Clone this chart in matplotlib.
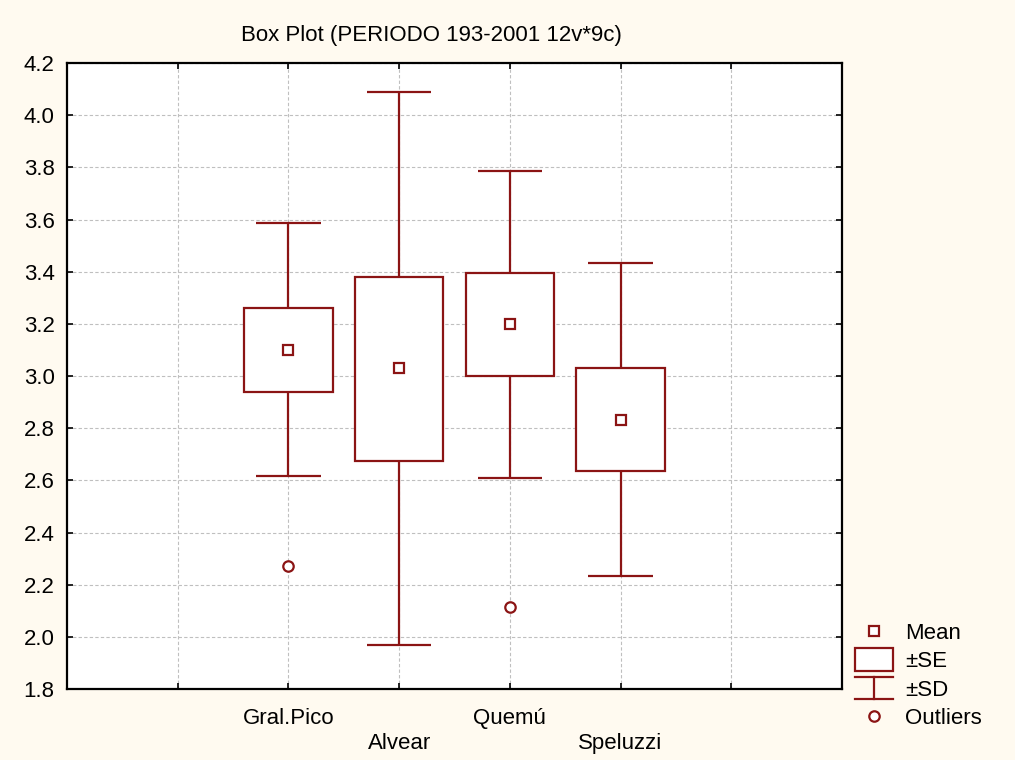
import matplotlib
matplotlib.use("Agg")
import matplotlib.pyplot as plt
import numpy as np
from matplotlib.lines import Line2D
from matplotlib.patches import Rectangle
from matplotlib.legend_handler import HandlerBase

plt.rcParams['font.family'] = ['Liberation Sans', 'DejaVu Sans']

categories = ["Gral.Pico", "Alvear", "Quemú", "Speluzzi"]
means = [3.10, 3.03, 3.20, 2.83]
se_low = [2.94, 2.675, 3.00, 2.635]
se_high = [3.262, 3.38, 3.395, 3.032]
sd_low = [2.617, 1.97, 2.609, 2.234]
sd_high = [3.585, 4.088, 3.786, 3.432]
outlier_cat = [0, 2]
outlier_vals = [2.27, 2.113]
yticks = [1.8, 2.0, 2.2, 2.4, 2.6, 2.8, 3.0, 3.2, 3.4, 3.6, 3.8, 4.0, 4.2]

C = '#8B1414'
BG = '#FFFAF0'

fig = plt.figure(figsize=(10.15, 7.6), dpi=100, facecolor=BG)
ax = fig.add_axes([67/1015, 71/760, 775/1015, 626/760])
ax.set_facecolor('white')

x = np.arange(len(categories)) + 2
ax.bar(x, np.array(se_high) - np.array(se_low), bottom=se_low, width=0.8,
       facecolor='white', edgecolor=C, linewidth=1.6, zorder=3)
ax.vlines(x, se_high, sd_high, color=C, linewidth=1.6, zorder=3)
ax.vlines(x, sd_low, se_low, color=C, linewidth=1.6, zorder=3)
ax.hlines(sd_high, x - 0.29, x + 0.29, color=C, linewidth=1.6, zorder=3)
ax.hlines(sd_low, x - 0.29, x + 0.29, color=C, linewidth=1.6, zorder=3)
ax.plot(x, means, linestyle='none', marker='s', markersize=7.5, markerfacecolor='white',
        markeredgecolor=C, markeredgewidth=1.6, zorder=4)
ax.plot(x[outlier_cat], outlier_vals, linestyle='none', marker='o', markersize=7.5,
        markerfacecolor='white', markeredgecolor=C, markeredgewidth=1.6, zorder=4)

ax.set_xlim(0, 7)
ax.set_ylim(1.8, 4.2)
ax.set_yticks(yticks)
ax.set_yticklabels([f"{v:.1f}" for v in yticks])
xt = np.arange(1, 7)
labels = [""] + [c if i % 2 == 0 else "\n" + c for i, c in enumerate(categories)] + [""]
ax.set_xticks(xt)
ax.set_xticklabels(labels, linespacing=1.2)
ax.tick_params(direction='in', length=4, width=1.2, labelsize=16, top=True, right=True,
               color='black')
ax.tick_params(axis='x', pad=14)
ax.tick_params(axis='y', pad=9)
ax.grid(True, color='#BFBFBF', linestyle=(0, (3, 2)), linewidth=0.8, zorder=0)
for s in ax.spines.values():
    s.set_linewidth(1.6)

fig.text(431/1015, 1 - 35/760, "Box Plot (PERIODO 193-2001 12v*9c)", ha='center', va='center',
         fontsize=16)


class BoxHandler(HandlerBase):
    def create_artists(self, legend, orig, xd, yd, w, h, fs, trans):
        r = Rectangle((xd, yd - h * 0.25), w, h * 1.5, facecolor='white', edgecolor=C,
                      linewidth=1.6, transform=trans)
        return [r]


class SDHandler(HandlerBase):
    def create_artists(self, legend, orig, xd, yd, w, h, fs, trans):
        top = yd + h * 1.2
        bot = yd - h * 0.2
        l1 = Line2D([xd, xd + w], [top, top], color=C, lw=1.6, transform=trans)
        l2 = Line2D([xd, xd + w], [bot, bot], color=C, lw=1.6, transform=trans)
        l3 = Line2D([xd + w / 2, xd + w / 2], [bot, top], color=C, lw=1.6, transform=trans)
        return [l1, l2, l3]


h_mean = Line2D([], [], linestyle='none', marker='s', markersize=7.5, markerfacecolor='white',
                markeredgecolor=C, markeredgewidth=1.6)
h_se = Rectangle((0, 0), 1, 1)
h_sd = Line2D([], [])
h_out = Line2D([], [], linestyle='none', marker='o', markersize=7.5, markerfacecolor='white',
               markeredgecolor=C, markeredgewidth=1.6)
leg = fig.legend([h_mean, h_se, h_sd, h_out], ["Mean", "±SE", "±SD", "Outliers"],
                 handler_map={h_se: BoxHandler(), h_sd: SDHandler()},
                 loc='upper left', bbox_to_anchor=(846/1015, 1 - 614/760), frameon=False,
                 fontsize=16, handlelength=1.72, handletextpad=0.55, labelspacing=0.33,
                 borderaxespad=0)

fig.savefig("out.png", dpi=100, facecolor=BG)
